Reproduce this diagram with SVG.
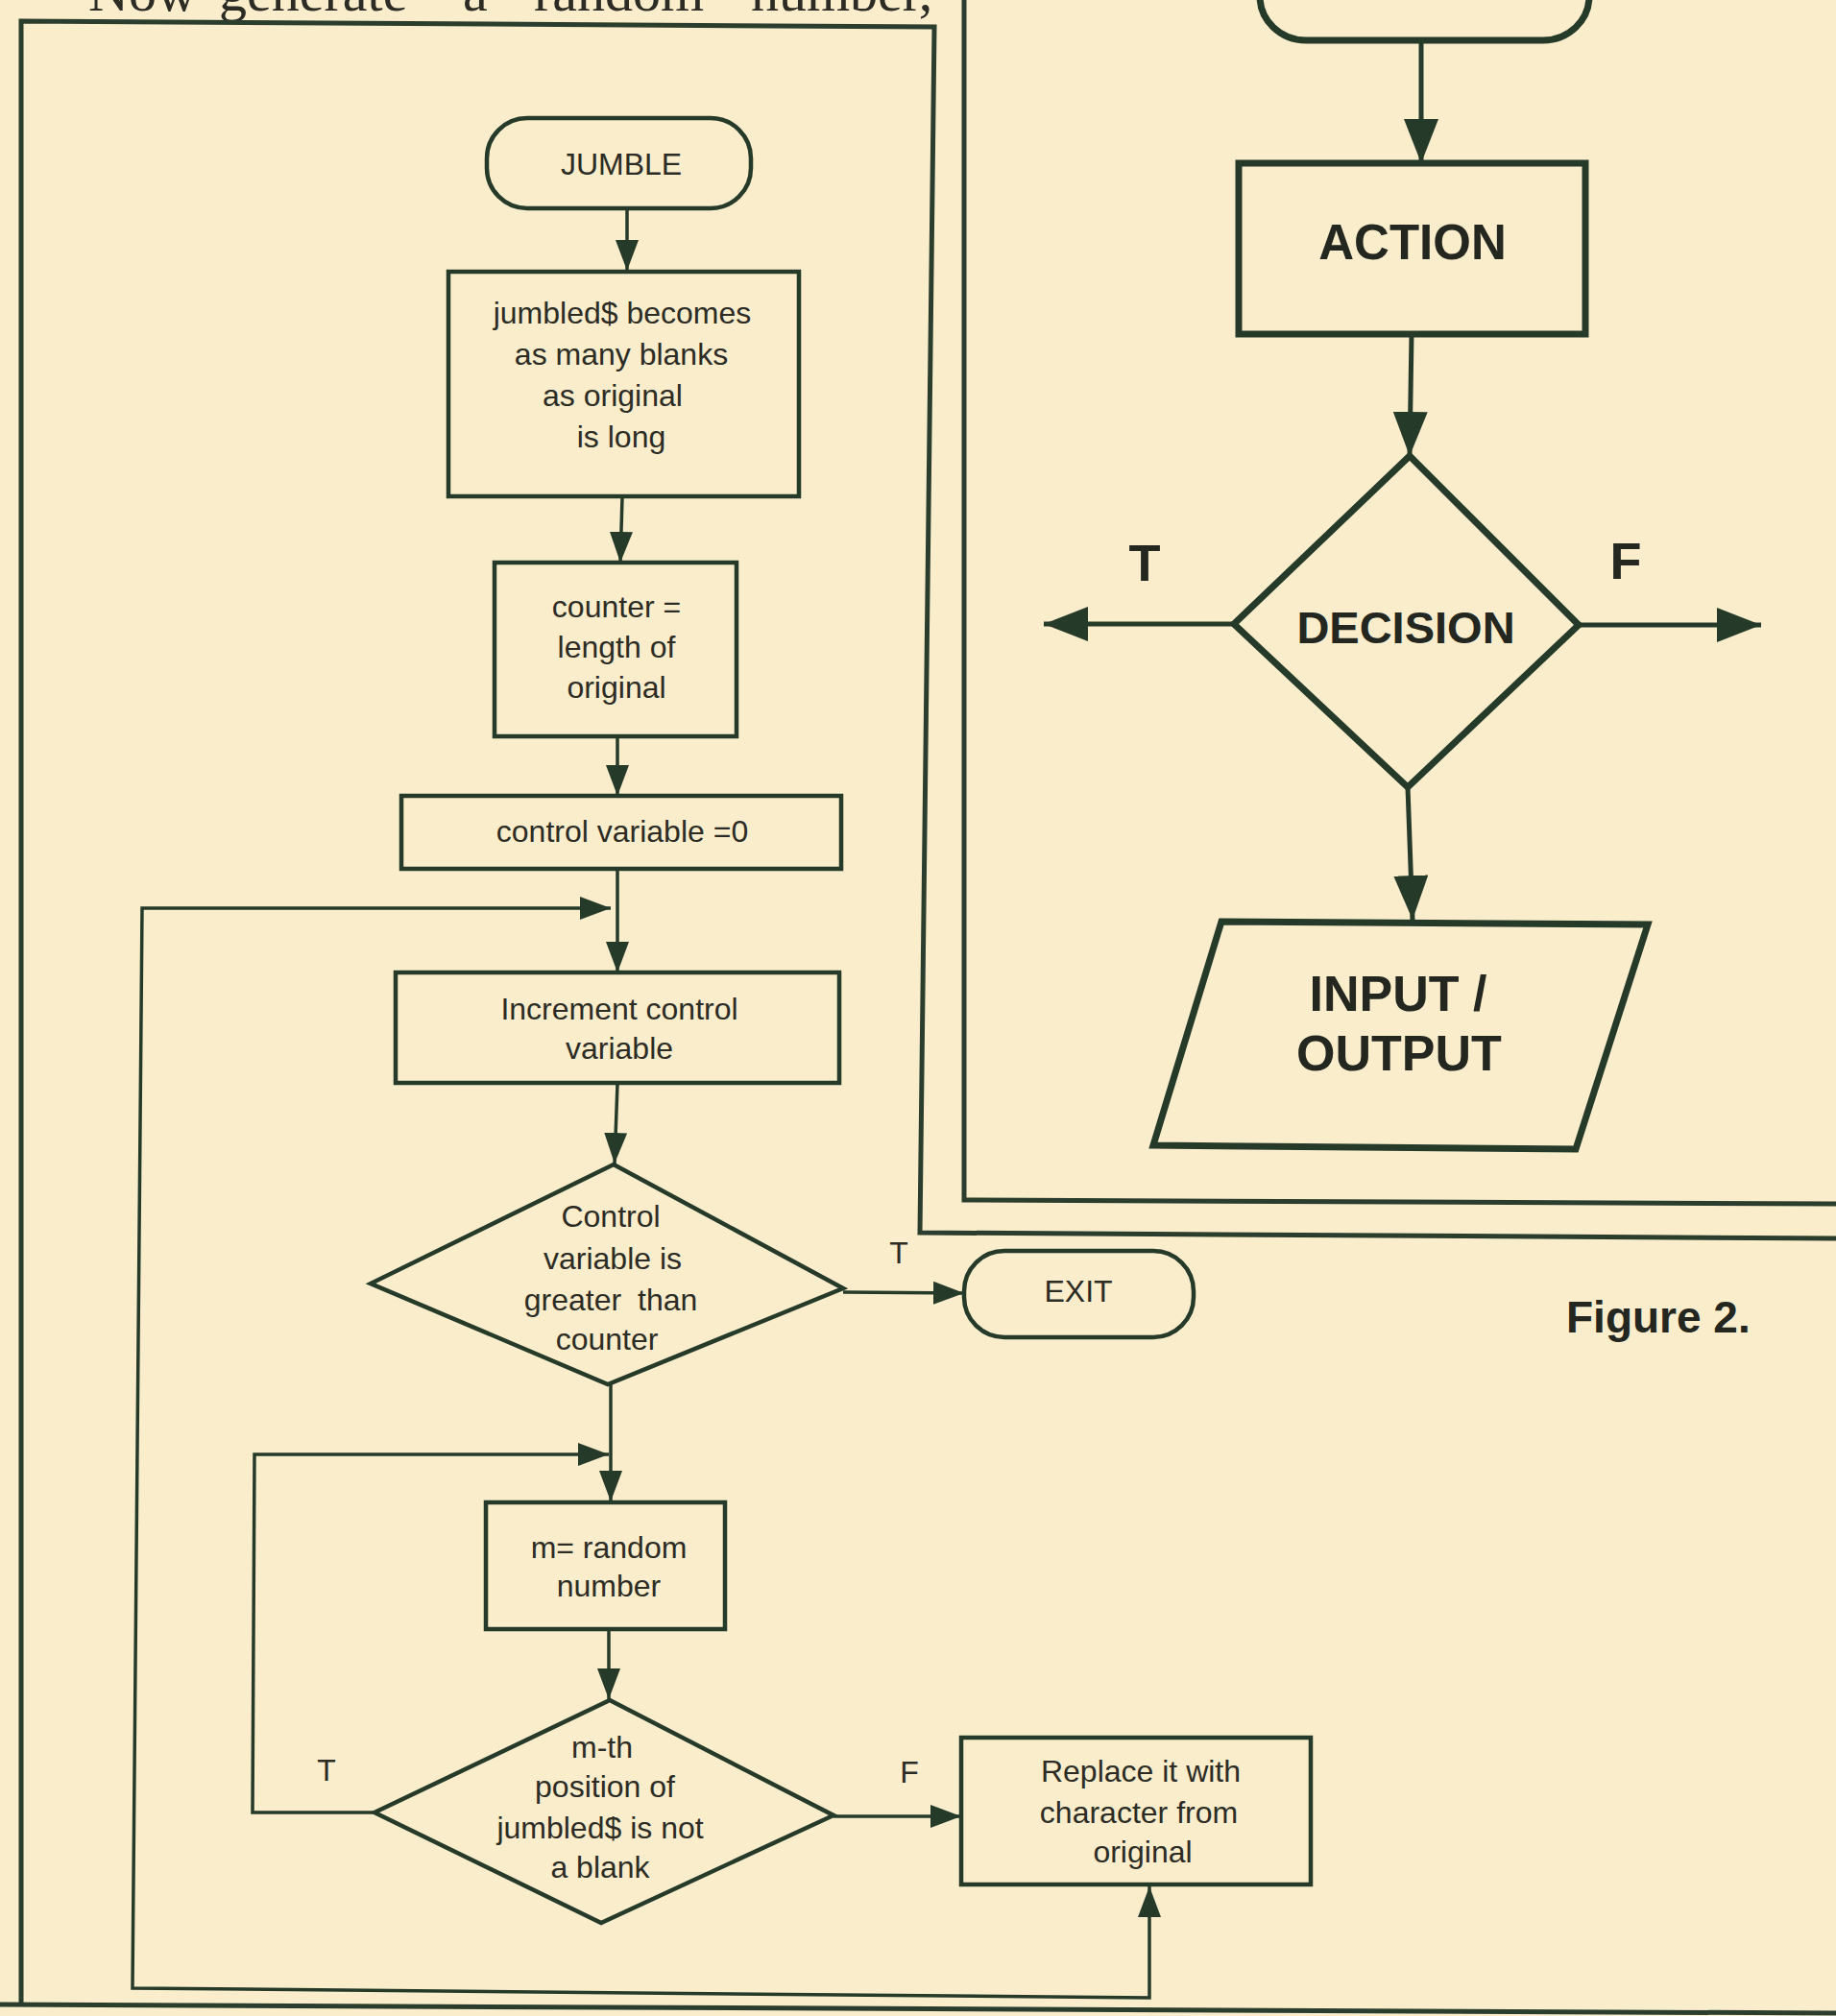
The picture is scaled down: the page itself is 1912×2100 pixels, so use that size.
<svg xmlns="http://www.w3.org/2000/svg" width="1912" height="2100" viewBox="0 0 1912 2100">
<style>
.frm{fill:none;stroke:#2b3d2c;stroke-width:5}
.ln{fill:none;stroke:#263a2a;stroke-width:3.5}
.lnb{fill:none;stroke:#263a2a;stroke-width:5}
.sh{fill:none;stroke:#263a2a;stroke-width:4.5}
.shb{fill:none;stroke:#263a2a;stroke-width:7}
.t{font-family:"Liberation Sans",Arial,sans-serif;font-size:32px;fill:#2c2c25;text-anchor:middle}
.tb{font-family:"Liberation Sans",Arial,sans-serif;font-weight:bold;fill:#23271f;text-anchor:middle}
</style>
<defs>
<marker id="aS" viewBox="0 0 32 24" refX="32" refY="12" markerWidth="32" markerHeight="24" markerUnits="userSpaceOnUse" orient="auto-start-reverse"><path d="M0,0 L32,12 L0,24 Z" fill="#263a2a"/></marker>
<marker id="aB" viewBox="0 0 46 36" refX="46" refY="18" markerWidth="46" markerHeight="36" markerUnits="userSpaceOnUse" orient="auto"><path d="M0,0 L46,18 L0,36 Z" fill="#263a2a"/></marker>
</defs>
<rect width="1912" height="2100" fill="#f9edcc"/>
<text font-family="'Liberation Serif',serif" font-size="58" fill="#2c2c25" y="11"><tspan x="92">Now</tspan><tspan x="228">generate</tspan><tspan x="482">a</tspan><tspan x="556">random</tspan><tspan x="782">number,</tspan></text>
<g id="frames">
<path class="frm" d="M22,2088 L22,22 L973,28 L958,1284 L1912,1290"/>
<path class="frm" d="M1004,0 L1004,1250 L1912,1254"/>
<path class="frm" d="M0,2088 L1912,2097" stroke-width="6"/>
</g>
<g id="connectors">
<path class="ln" d="M653,217 L653,282" marker-end="url(#aS)"/>
<path class="ln" d="M648,518 L646,586" marker-end="url(#aS)"/>
<path class="ln" d="M643,767 L643,829" marker-end="url(#aS)"/>
<path class="ln" d="M643,905 L643,1013" marker-end="url(#aS)"/>
<path class="ln" d="M1197,1965 L1197,2081 L138,2071 L148,946 L636,946" marker-start="url(#aS)" marker-end="url(#aS)"/>
<path class="ln" d="M643,1129 L640,1212" marker-end="url(#aS)"/>
<path class="ln" d="M878,1346 L1004,1347" marker-end="url(#aS)"/>
<path class="ln" d="M636,1442 L636,1564" marker-end="url(#aS)"/>
<path class="ln" d="M634,1697 L634,1770" marker-end="url(#aS)"/>
<path class="ln" d="M390,1888 L263,1888 L265,1515 L634,1515" marker-end="url(#aS)"/>
<path class="ln" d="M868,1892 L1001,1892" marker-end="url(#aS)"/>
<path class="lnb" d="M1480,42 L1480,170" marker-end="url(#aB)"/>
<path class="lnb" d="M1470,348 L1468,475" marker-end="url(#aB)"/>
<path class="lnb" d="M1285,650 L1087,650" marker-end="url(#aB)"/>
<path class="lnb" d="M1644,651 L1834,651" marker-end="url(#aB)"/>
<path class="lnb" d="M1466,820 L1471,958" marker-end="url(#aB)"/>
</g>
<g id="jumble"><rect class="sh" x="507" y="123" width="275" height="94" rx="42"/><text class="t" x="647" y="182" font-size="34">JUMBLE</text></g>
<g id="init-jumbled"><rect class="sh" x="467" y="283" width="365" height="234"/>
<text class="t" x="648" y="337">jumbled$ becomes</text><text class="t" x="647" y="380">as many blanks</text><text class="t" x="638" y="423">as original</text><text class="t" x="647" y="466">is long</text></g>
<g id="counter"><rect class="sh" x="515" y="586" width="252" height="181"/>
<text class="t" x="642" y="643">counter =</text><text class="t" x="642" y="685">length of</text><text class="t" x="642" y="727">original</text></g>
<g id="control-init"><rect class="sh" x="418" y="829" width="458" height="76"/><text class="t" x="648" y="877">control variable =0</text></g>
<g id="increment"><rect class="sh" x="412" y="1013" width="462" height="115"/>
<text class="t" x="645" y="1062">Increment control</text><text class="t" x="645" y="1103">variable</text></g>
<g id="decision-counter"><polygon class="sh" points="639,1213 878,1342 633,1442 386,1337"/>
<text class="t" x="636" y="1278">Control</text><text class="t" x="638" y="1322">variable is</text><text class="t" x="636" y="1365" word-spacing="8">greater than</text><text class="t" x="632" y="1406">counter</text>
<text class="t" x="936" y="1316" font-size="40">T</text></g>
<g id="exit"><rect class="sh" x="1004" y="1303" width="239" height="90" rx="42"/><text class="t" x="1123" y="1356" font-size="33">EXIT</text></g>
<g id="random"><rect class="sh" x="506" y="1565" width="249" height="132"/>
<text class="t" x="634" y="1623">m= random</text><text class="t" x="634" y="1663">number</text></g>
<g id="decision-blank"><polygon class="sh" points="635,1771 868,1891 626,2003 390,1888"/>
<text class="t" x="627" y="1831">m-th</text><text class="t" x="630" y="1872">position of</text><text class="t" x="625" y="1915">jumbled$ is not</text><text class="t" x="625" y="1956">a blank</text>
<text class="t" x="340" y="1855" font-size="40">T</text><text class="t" x="947" y="1857" font-size="40">F</text></g>
<g id="replace"><rect class="sh" x="1001" y="1810" width="364" height="153"/>
<text class="t" x="1188" y="1856" font-size="33">Replace it with</text><text class="t" x="1186" y="1899" font-size="33">character from</text><text class="t" x="1190" y="1940" font-size="33">original</text></g>
<g id="start"><rect class="shb" x="1312" y="-50" width="343" height="92" rx="48"/></g>
<g id="action"><rect class="shb" x="1290" y="170" width="361" height="178"/><text class="tb" x="1471" y="270" font-size="51">ACTION</text></g>
<g id="decision"><polygon class="shb" points="1468,475 1644,651 1466,820 1285,650"/><text class="tb" x="1464" y="670" font-size="47">DECISION</text>
<text class="tb" x="1192" y="605" font-size="54">T</text><text class="tb" x="1693" y="603" font-size="54">F</text></g>
<g id="io"><polygon class="shb" points="1272,960 1716,963 1641,1197 1201,1193"/>
<text class="tb" x="1456" y="1053" font-size="52">INPUT /</text><text class="tb" x="1457" y="1115" font-size="52">OUTPUT</text></g>
<text class="tb" x="1631" y="1388" font-size="46" style="text-anchor:start">Figure 2.</text>
</svg>
